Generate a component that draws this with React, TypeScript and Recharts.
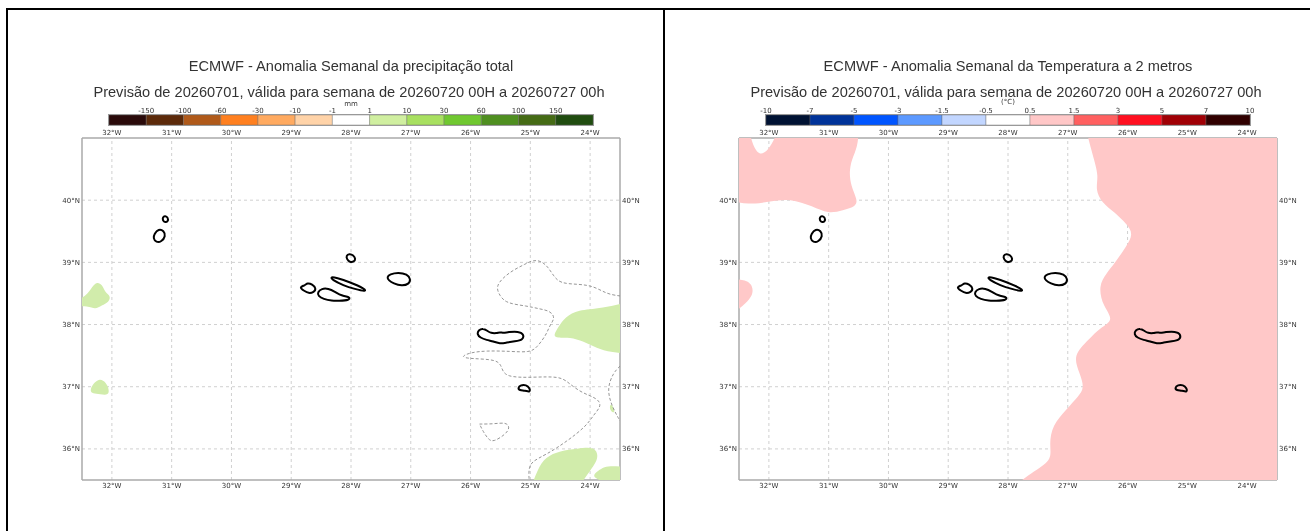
import {
  Bar,
  BarChart,
  Curve,
  ReferenceLine,
  Scatter,
  ScatterChart,
  XAxis,
  YAxis,
} from "recharts";

// [lon, lat]
const lonTicks = [-32, -31, -30, -29, -28, -27, -26, -25, -24];
const latTicks = [36, 37, 38, 39, 40];

const flores = [[-31.29, 39.46], [-31.22, 39.54], [-31.13, 39.51], [-31.1, 39.42], [-31.17, 39.33], [-31.26, 39.32], [-31.31, 39.39]];
const corvo = [[-31.15, 39.73], [-31.11, 39.75], [-31.06, 39.72], [-31.06, 39.66], [-31.11, 39.64], [-31.15, 39.67]];
const graciosa = [[-28.08, 39.11], [-28.03, 39.14], [-27.96, 39.12], [-27.92, 39.05], [-27.95, 39.01], [-28.02, 39.0], [-28.07, 39.05]];
const terceira = [[-27.4, 38.76], [-27.35, 38.81], [-27.21, 38.84], [-27.06, 38.81], [-27.0, 38.73], [-27.03, 38.65], [-27.15, 38.62], [-27.29, 38.66], [-27.37, 38.71]];
const saoJorge = [[-28.34, 38.77], [-28.24, 38.75], [-28.04, 38.69], [-27.75, 38.57], [-27.76, 38.53], [-27.93, 38.57], [-28.13, 38.63], [-28.32, 38.72]];
const faial = [[-28.87, 38.6], [-28.77, 38.63], [-28.73, 38.67], [-28.65, 38.65], [-28.58, 38.58], [-28.62, 38.52], [-28.71, 38.5], [-28.78, 38.54]];
const pico = [[-28.56, 38.52], [-28.49, 38.58], [-28.38, 38.58], [-28.27, 38.53], [-28.16, 38.46], [-28.02, 38.45], [-28.02, 38.39], [-28.21, 38.38], [-28.32, 38.38], [-28.46, 38.41], [-28.55, 38.46]];
const saoMiguel = [[-25.87, 37.91], [-25.79, 37.94], [-25.72, 37.9], [-25.66, 37.86], [-25.56, 37.86], [-25.51, 37.88], [-25.45, 37.86], [-25.37, 37.88], [-25.2, 37.89], [-25.11, 37.85], [-25.12, 37.75], [-25.26, 37.73], [-25.4, 37.71], [-25.51, 37.69], [-25.62, 37.73], [-25.73, 37.75], [-25.84, 37.79], [-25.89, 37.84]];
const santaMaria = [[-25.21, 36.98], [-25.16, 37.03], [-25.07, 37.03], [-25.01, 36.98], [-25.0, 36.91], [-25.09, 36.94], [-25.18, 36.94]];
const islands = [flores, corvo, graciosa, terceira, saoJorge, faial, pico, saoMiguel, santaMaria];

// precipitation: 1-10 mm areas, carried past the map edge where they run off it
// (a repeated point keeps a corner sharp on the closed curve)
const rainWest = [[-32.7, 38.34], [-32.7, 38.34], [-32.42, 38.46], [-32.33, 38.61], [-32.25, 38.69], [-32.16, 38.64], [-32.11, 38.51], [-32.02, 38.46], [-32.05, 38.36], [-32.17, 38.31], [-32.28, 38.24], [-32.39, 38.3], [-32.7, 38.29], [-32.7, 38.29]];
const rainSouthWest = [[-32.37, 36.93], [-32.32, 37.05], [-32.2, 37.14], [-32.1, 37.07], [-32.05, 36.97], [-32.05, 36.86], [-32.2, 36.88], [-32.32, 36.89]];
const rainEast = [[-24.62, 37.82], [-24.53, 37.96], [-24.42, 38.12], [-24.2, 38.24], [-23.83, 38.25], [-23.2, 38.4], [-23.2, 38.4], [-23.2, 38.4], [-23.2, 37.52], [-23.2, 37.52], [-23.2, 37.52], [-23.66, 37.55], [-23.89, 37.62], [-24.11, 37.73], [-24.34, 37.8], [-24.55, 37.78]];
const rainSouth = [[-25.02, 35.3], [-25.02, 35.3], [-24.88, 35.67], [-24.75, 35.87], [-24.5, 35.97], [-24.22, 36.0], [-23.92, 36.04], [-23.86, 35.88], [-23.92, 35.76], [-24.03, 35.61], [-24.25, 35.3], [-24.25, 35.3]];
const rainSouthEast = [[-23.98, 35.56], [-23.86, 35.65], [-23.72, 35.75], [-23.2, 35.68], [-23.2, 35.68], [-23.2, 35.3], [-23.2, 35.3], [-23.6, 35.35], [-23.8, 35.48]];
const rainSpeck = [[-23.67, 36.71], [-23.63, 36.72], [-23.58, 36.58], [-23.63, 36.59], [-23.67, 36.63]];
const rainAreas = [rainWest, rainSouthWest, rainEast, rainSouth, rainSouthEast, rainSpeck];

// precipitation: dashed zero contours
const contourMain = [[-23.5, 38.46], [-23.72, 38.49], [-23.94, 38.62], [-24.2, 38.65], [-24.5, 38.66], [-24.61, 38.78], [-24.7, 38.92], [-24.81, 39.02], [-24.95, 39.04], [-25.09, 38.97], [-25.28, 38.88], [-25.45, 38.76], [-25.58, 38.61], [-25.51, 38.46], [-25.4, 38.34], [-25.06, 38.3], [-24.84, 38.25], [-24.67, 38.22], [-24.58, 38.11], [-24.68, 37.98], [-24.73, 37.84], [-24.89, 37.63], [-25.01, 37.55], [-25.34, 37.57], [-25.73, 37.58], [-26.01, 37.55], [-26.17, 37.48], [-26.01, 37.45], [-25.54, 37.44], [-25.48, 37.31], [-25.42, 37.15], [-24.95, 37.15], [-24.5, 37.17], [-24.36, 37.06], [-24.14, 36.9], [-23.89, 36.82], [-23.8, 36.7], [-23.94, 36.55], [-24.06, 36.37], [-24.39, 36.12], [-24.73, 35.91], [-24.98, 35.8], [-25.03, 35.67], [-25.02, 35.5]];
const contourSmall = [[-25.85, 36.4], [-25.62, 36.4], [-25.4, 36.43], [-25.34, 36.34], [-25.42, 36.23], [-25.62, 36.11], [-25.7, 36.15], [-25.79, 36.28], [-25.85, 36.4]];
const contourEdge = [[-23.5, 37.33], [-23.61, 37.23], [-23.72, 36.97], [-23.64, 36.69], [-23.5, 36.45]];
const rainContours = [contourMain, contourSmall, contourEdge];

// temperature: 0.5-1.5 degC areas, carried past the map edge as well
const warmNorthWest = [[-32.8, 41.3], [-32.8, 41.3], [-32.8, 41.3], [-32.36, 41.3], [-32.36, 41.3], [-32.3, 40.95], [-32.17, 40.7], [-32.0, 40.8], [-31.85, 41.1], [-31.8, 41.3], [-31.8, 41.3], [-30.5, 41.3], [-30.5, 41.3], [-30.5, 40.9], [-30.59, 40.71], [-30.66, 40.49], [-30.63, 40.23], [-30.52, 40.01], [-30.54, 39.9], [-30.76, 39.84], [-31.01, 39.78], [-31.26, 39.9], [-31.65, 40.03], [-31.98, 39.98], [-32.32, 39.92], [-32.8, 40.02], [-32.8, 40.02], [-32.8, 40.02]];
const warmWestEdge = [[-32.8, 38.72], [-32.8, 38.72], [-32.35, 38.74], [-32.24, 38.56], [-32.33, 38.36], [-32.8, 38.05], [-32.8, 38.05]];
const warmEast = [[-26.74, 41.3], [-26.74, 41.3], [-26.58, 40.71], [-26.48, 40.39], [-26.54, 40.17], [-26.43, 39.96], [-26.21, 39.8], [-26.02, 39.62], [-25.9, 39.46], [-26.02, 39.26], [-26.21, 38.99], [-26.35, 38.83], [-26.49, 38.62], [-26.41, 38.29], [-26.22, 38.07], [-26.46, 37.95], [-26.65, 37.76], [-26.92, 37.5], [-26.8, 37.22], [-26.72, 36.98], [-26.82, 36.85], [-27.02, 36.64], [-27.26, 36.38], [-27.31, 36.07], [-27.26, 35.83], [-27.52, 35.67], [-28.05, 35.3], [-28.05, 35.3], [-23.2, 35.3], [-23.2, 35.3], [-23.2, 35.3], [-23.2, 41.3], [-23.2, 41.3], [-23.2, 41.3]];
const warmAreas = [warmNorthWest, warmWestEdge, warmEast];

const rainLabels = ["-150", "-100", "-60", "-30", "-10", "-1", "1", "10", "30", "60", "100", "150"];
const rainColors = ["#2a0a0a", "#5c2a0a", "#b05a1a", "#ff8020", "#ffaa60", "#ffd3a8", "#ffffff", "#d0efa0", "#a8e060", "#70c830", "#4f8f20", "#456b15", "#204c10"];
const tempLabels = ["-10", "-7", "-5", "-3", "-1.5", "-0.5", "0.5", "1.5", "3", "5", "7", "10"];
const tempColors = ["#001233", "#003399", "#0055ff", "#5c99ff", "#c2d6ff", "#ffffff", "#ffc7c7", "#ff6060", "#ff1020", "#a00005", "#300000"];

const RAIN_FILL = "#d1ecab";
const WARM_FILL = "#ffc8c8";
const FONT = "'DejaVu Sans', sans-serif";
const SOFT = "blur(0.5px)"; // the source image is a slightly soft screenshot
const tickStyle = { fontSize: 7, fill: "#333", fontFamily: FONT };

const toPoints = (r: number[][]) => r.map(([lon, lat]) => ({ lon, lat }));
const NoDot = () => null;

// Scatter hands us the scaled points, so a ring can be drawn as one shape
const ring = (type: string, fill: string, stroke: string, width = 1, dash?: string) => (props: any) => (
  <Curve
    points={props.points}
    type={type as any}
    fill={fill}
    stroke={stroke}
    strokeWidth={width}
    strokeDasharray={dash}
  />
);

const xAxisProps = {
  dataKey: "lon",
  type: "number" as const,
  height: 16,
  domain: [-32.5, -23.5],
  ticks: lonTicks,
  interval: 0,
  allowDataOverflow: true,
  tickLine: false,
  tickSize: 2,
  tickMargin: 1,
  tick: tickStyle,
  stroke: "#aaa",
  strokeWidth: 1.5,
  tickFormatter: (v: number) => `${-v}°W`,
};

const yAxisProps = {
  dataKey: "lat",
  type: "number" as const,
  width: 30,
  domain: [35.5, 41],
  ticks: latTicks,
  interval: 0,
  allowDataOverflow: true,
  tickLine: false,
  tickSize: 1,
  tickMargin: 1,
  tick: tickStyle,
  stroke: "#aaa",
  strokeWidth: 1.5,
  tickFormatter: (v: number) => `${v}°N`,
};

const MapChart = ({ left, areas, areaFill, contours }: any) => (
  <div style={{ position: "absolute", left, top: 122, filter: SOFT }}>
    <ScatterChart width={598} height={374} margin={{ top: 0, right: 0, bottom: 0, left: 0 }}>
      <XAxis {...xAxisProps} xAxisId="bottom" orientation="bottom" />
      <XAxis {...xAxisProps} xAxisId="top" orientation="top" />
      <YAxis {...yAxisProps} yAxisId="left" orientation="left" />
      <YAxis {...yAxisProps} yAxisId="right" orientation="right" />
      {areas.map((r: number[][], i: number) => (
        <Scatter
          key={`area-${i}`}
          xAxisId="bottom"
          yAxisId="left"
          data={toPoints(r)}
          shape={NoDot}
          line={ring("basisClosed", areaFill, "none")}
          isAnimationActive={false}
        />
      ))}
      {lonTicks.map((v) => (
        <ReferenceLine key={`lon-${v}`} xAxisId="bottom" yAxisId="left" x={v} stroke="#d0d0d0" strokeDasharray="3 3" />
      ))}
      {latTicks.map((v) => (
        <ReferenceLine key={`lat-${v}`} xAxisId="bottom" yAxisId="left" y={v} stroke="#d0d0d0" strokeDasharray="3 3" />
      ))}
      {contours.map((r: number[][], i: number) => (
        <Scatter
          key={`contour-${i}`}
          xAxisId="bottom"
          yAxisId="left"
          data={toPoints(r)}
          shape={NoDot}
          line={ring("basis", "none", "#8a8a8a", 0.9, "3 2")}
          isAnimationActive={false}
        />
      ))}
      {islands.map((r, i) => (
        <Scatter
          key={`island-${i}`}
          xAxisId="bottom"
          yAxisId="left"
          data={toPoints(r)}
          shape={NoDot}
          line={ring("basisClosed", "none", "#000", 2)}
          isAnimationActive={false}
        />
      ))}
    </ScatterChart>
  </div>
);

// colour bar: one row, one stacked segment per class
const ColorBar = ({ left, colors, labels, firstTick }: any) => {
  const row = Object.fromEntries(colors.map((_: string, i: number) => [`s${i}`, 1]));
  const ticks = labels.map((_: string, i: number) => i + firstTick);
  return (
    <div style={{ position: "absolute", left: left - 12, top: 96, filter: SOFT }}>
      <BarChart
        width={484 + 24}
        height={29}
        layout="vertical"
        data={[row]}
        barCategoryGap={0}
        margin={{ top: 0, right: 12, bottom: 0, left: 12 }}
      >
        <XAxis
          type="number"
          orientation="top"
          height={19}
          domain={[0, colors.length]}
          ticks={ticks}
          interval={0}
          axisLine={false}
          tickLine={false}
          tickSize={1}
          tickMargin={1}
          tick={tickStyle}
          tickFormatter={(v: number) => labels[v - firstTick]}
        />
        <YAxis type="category" hide />
        {colors.map((c: string, i: number) => (
          <Bar key={c + i} dataKey={`s${i}`} stackId="bar" fill={c} stroke="#666" strokeWidth={0.4} isAnimationActive={false} />
        ))}
      </BarChart>
      <div style={{ position: "absolute", left: 11, top: 18, width: 486, height: 12, boxSizing: "border-box", border: "1.5px solid #999" }} />
    </div>
  );
};

const Title = ({ center, top, size, children }: any) => (
  <div
    style={{
      position: "absolute",
      left: center - 320,
      width: 640,
      top,
      textAlign: "center",
      fontFamily: size > 10 ? "'Liberation Sans', sans-serif" : FONT,
      fontSize: size,
      lineHeight: `${size + 2}px`,
      color: "#333",
      whiteSpace: "nowrap",
      filter: SOFT,
    }}
  >
    {children}
  </div>
);

const Rule = (style: any) => <div style={{ position: "absolute", background: "#000", ...style }} />;

export default function App() {
  return (
    <div style={{ position: "absolute", left: 0, top: 0, width: 1310, height: 531, overflow: "hidden", background: "#fff" }}>
      <Rule left={6} top={8} width={1304} height={2} />
      <Rule left={6} top={8} width={2} height={523} />
      <Rule left={663} top={8} width={2} height={523} />

      <Title center={351} top={58} size={14.6}>ECMWF - Anomalia Semanal da precipitação total</Title>
      <Title center={349} top={84} size={14.6}>Previsão de 20260701, válida para semana de 20260720 00H a 20260727 00h</Title>
      <Title center={351} top={100} size={7}>mm</Title>
      <ColorBar left={109} colors={rainColors} labels={rainLabels} firstTick={1} />
      <MapChart left={52} areas={rainAreas} areaFill={RAIN_FILL} contours={rainContours} />

      <Title center={1008} top={58} size={14.6}>ECMWF - Anomalia Semanal da Temperatura a 2 metros</Title>
      <Title center={1006} top={84} size={14.6}>Previsão de 20260701, válida para semana de 20260720 00H a 20260727 00h</Title>
      <Title center={1008} top={98} size={7}>(°C)</Title>
      <ColorBar left={766} colors={tempColors} labels={tempLabels} firstTick={0} />
      <MapChart left={709} areas={warmAreas} areaFill={WARM_FILL} contours={[]} />
    </div>
  );
}
